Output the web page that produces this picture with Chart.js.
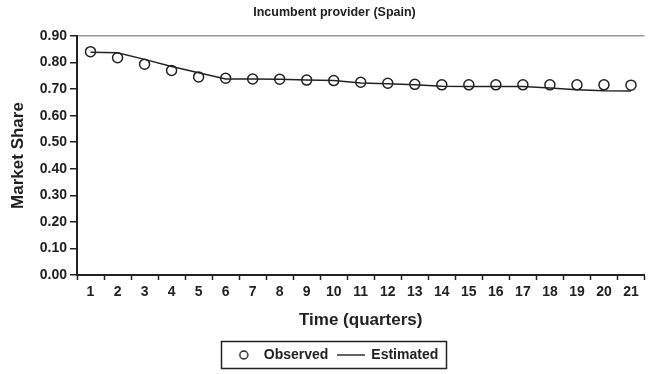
<!DOCTYPE html>
<html>
<head>
<meta charset="utf-8">
<script src="https://cdn.jsdelivr.net/npm/chart.js@4.4.1/dist/chart.umd.min.js"></script>
<style>
  html, body { margin: 0; padding: 0; background: #ffffff; }
  #wrap { width: 651px; height: 374px; position: relative; }
</style>
</head>
<body>
<div id="wrap"><canvas id="c" width="651" height="374"></canvas></div>
<script>
const chartTitle = 'Incumbent provider (Spain)';
const xAxisTitle = 'Time (quarters)';
const yAxisTitle = 'Market Share';
const quarters = ['1','2','3','4','5','6','7','8','9','10','11','12','13','14','15','16','17','18','19','20','21'];
const observed = [0.841,0.818,0.794,0.770,0.746,0.741,0.738,0.737,0.734,0.732,0.726,0.722,0.718,0.716,0.716,0.716,0.716,0.716,0.716,0.716,0.715];
const estimated = [0.839,0.837,0.812,0.785,0.762,0.738,0.738,0.737,0.734,0.732,0.723,0.720,0.716,0.711,0.710,0.710,0.710,0.704,0.698,0.694,0.693];
const yTicks = [0.00,0.10,0.20,0.30,0.40,0.50,0.60,0.70,0.80,0.90];

const ink = '#222222';
const fontFamily = '"Liberation Sans", Arial, sans-serif';

// legend symbols
function circleSymbol() {
  const c = document.createElement('canvas');
  c.width = 12; c.height = 12;
  const g = c.getContext('2d');
  g.strokeStyle = ink; g.lineWidth = 1.4;
  g.beginPath(); g.arc(6, 6, 4, 0, Math.PI * 2); g.stroke();
  return c;
}
function lineSymbol() {
  const c = document.createElement('canvas');
  c.width = 28; c.height = 4;
  const g = c.getContext('2d');
  g.strokeStyle = ink; g.lineWidth = 1.4;
  g.beginPath(); g.moveTo(0, 2); g.lineTo(28, 2); g.stroke();
  return c;
}
const legendSymbols = [circleSymbol(), lineSymbol()];

const legendBorder = {
  id: 'legendBorder',
  afterDraw(chart) {
    const lg = chart.legend;
    if (!lg || !lg.legendHitBoxes || !lg.legendHitBoxes.length) return;
    const hb = lg.legendHitBoxes;
    let l = Infinity, r = -Infinity, t = Infinity, b = -Infinity;
    hb.forEach(h => { l = Math.min(l, h.left); r = Math.max(r, h.left + h.width); t = Math.min(t, h.top); b = Math.max(b, h.top + h.height); });
    const ctx = chart.ctx;
    ctx.save();
    ctx.strokeStyle = ink;
    ctx.lineWidth = 1.5;
    ctx.strokeRect(Math.round(l - 10) + 0.5, Math.round(t - 7) + 0.5, Math.round(r - l + 18), Math.round(b - t + 13));
    ctx.restore();
  }
};

new Chart(document.getElementById('c'), {
  type: 'line',
  data: {
    labels: quarters,
    datasets: [
      {
        label: 'Observed',
        data: observed,
        showLine: false,
        pointStyle: 'circle',
        pointRadius: 5,
        pointBorderWidth: 1.5,
        pointBorderColor: ink,
        pointBackgroundColor: 'rgba(255,255,255,0)',
        borderColor: ink,
        backgroundColor: 'rgba(255,255,255,0)',
        borderWidth: 1.5
      },
      {
        label: 'Estimated',
        data: estimated,
        pointRadius: 0,
        borderColor: ink,
        backgroundColor: ink,
        borderWidth: 1.5,
        tension: 0,
        fill: false
      }
    ]
  },
  options: {
    responsive: false,
    animation: false,
    layout: { padding: { left: 18, right: 0, top: 0, bottom: 2 } },
    plugins: {
      title: {
        display: true,
        text: chartTitle,
        color: ink,
        font: { family: fontFamily, size: 12.5, weight: 'bold', lineHeight: 1.2 },
        padding: { top: 5, bottom: 16 }
      },
      legend: {
        position: 'bottom',
        labels: {
          color: ink,
          font: { family: fontFamily, size: 14, weight: 'bold' },
          usePointStyle: true,
          pointStyleWidth: 26,
          boxHeight: 8,
          padding: 10,
          generateLabels(chart) {
            const items = Chart.defaults.plugins.legend.labels.generateLabels(chart);
            items.forEach((it, i) => { it.pointStyle = legendSymbols[i]; });
            return items;
          }
        }
      },
      tooltip: { enabled: false }
    },
    scales: {
      x: {
        type: 'category',
        offset: true,
        border: { display: true, color: ink, width: 2 },
        grid: { display: true, offset: true, drawOnChartArea: false, drawTicks: true, tickLength: 5, tickColor: ink, tickWidth: 1.5 },
        ticks: { color: ink, font: { family: fontFamily, size: 14, weight: 'bold' }, padding: 4, maxRotation: 0, autoSkip: false },
        title: { display: true, text: xAxisTitle, color: ink, font: { family: fontFamily, size: 17, weight: 'bold', lineHeight: 1.2 }, padding: { top: 0, bottom: 7 } },
        afterFit(scale) { scale.height = 63; }
      },
      y: {
        min: 0,
        max: 0.9,
        afterBuildTicks(scale) { scale.ticks = yTicks.map(v => ({ value: v })); },
        border: { display: true, color: ink, width: 2 },
        grid: {
          display: true,
          drawOnChartArea: true,
          drawTicks: true,
          tickLength: 7,
          tickColor: ink,
          tickWidth: 1.5,
          color: (ctx) => (ctx.tick && Math.abs(ctx.tick.value - 0.9) < 1e-6) ? '#9a9a9a' : 'rgba(0,0,0,0)',
          lineWidth: 1.5
        },
        ticks: {
          color: ink,
          font: { family: fontFamily, size: 14, weight: 'bold' },
          padding: 3,
          callback: (v) => Number(v).toFixed(2)
        },
        title: { display: true, text: yAxisTitle, color: ink, font: { family: fontFamily, size: 17, weight: 'bold', lineHeight: 1.2 }, padding: { top: -10, bottom: 0 } },
        afterFit(scale) { scale.width = 59; }
      }
    }
  },
  plugins: [legendBorder]
});
</script>
</body>
</html>
